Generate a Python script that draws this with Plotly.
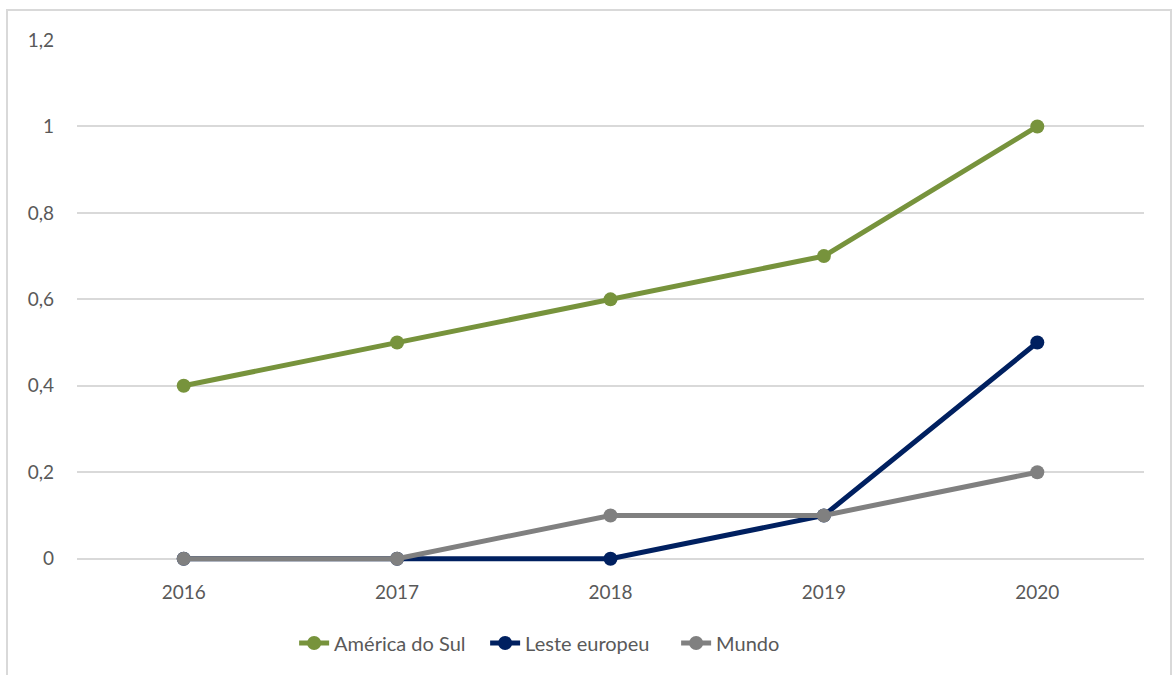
import plotly.graph_objects as go

years = ["2016", "2017", "2018", "2019", "2020"]
america_sul = [0.4, 0.5, 0.6, 0.7, 1.0]
leste_europeu = [0, 0, 0, 0.1, 0.5]
mundo = [0, 0, 0.1, 0.1, 0.2]

series = [
    ("América do Sul", america_sul, "#77933C"),
    ("Leste europeu", leste_europeu, "#002060"),
    ("Mundo", mundo, "#808080"),
]

fig = go.Figure()
for name, vals, color in series:
    fig.add_trace(go.Scatter(
        x=years, y=vals, name=name, mode="lines+markers",
        line=dict(color=color, width=5),
        marker=dict(color=color, size=14),
        cliponaxis=False,
    ))

fig.update_layout(
    width=1174, height=675,
    margin=dict(l=77, r=30, t=40, b=112),
    paper_bgcolor="white", plot_bgcolor="white",
    font=dict(family="Lato, Open Sans, sans-serif", size=20, color="#595959"),
    showlegend=True,
    legend=dict(orientation="h", x=0.472, xanchor="center", y=-0.153, yanchor="middle",
                font=dict(size=20, color="#595959"), entrywidth=146, tracegroupgap=0),
    xaxis=dict(type="category", range=[-0.5, 4.5], showgrid=False, showline=False,
               ticks="", ticklabelstandoff=16,
               tickfont=dict(size=19, color="#595959"), zeroline=False),
    yaxis=dict(range=[-0.01, 1.2], tickvals=[0, 0.2, 0.4, 0.6, 0.8, 1, 1.2],
               showgrid=True, gridcolor="#D9D9D9", gridwidth=1.5,
               zeroline=False, showline=False, ticks="", ticklabelstandoff=22,
               tickfont=dict(size=19, color="#595959")),
    separators=",.",
)
fig.add_shape(type="rect", xref="paper", yref="paper",
              x0=-0.0656, x1=1.0253, y0=-0.25, y1=1.0574,
              line=dict(color="#D9D9D9", width=2), layer="below")

fig.write_html("out.html")
